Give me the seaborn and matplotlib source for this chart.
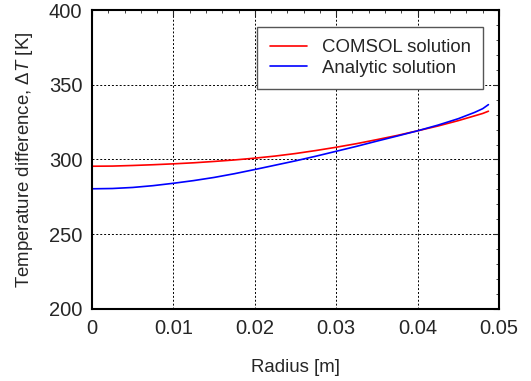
import matplotlib
matplotlib.use("Agg")
import matplotlib.pyplot as plt
import seaborn as sns
import pandas as pd
from matplotlib.ticker import MultipleLocator, FuncFormatter

# Values
radius = [0.0, 0.0025, 0.005, 0.0075, 0.01, 0.0125, 0.015, 0.0175, 0.02, 0.0225, 0.025,
          0.0275, 0.03, 0.0325, 0.035, 0.0375, 0.04, 0.0425, 0.045, 0.047, 0.048, 0.0487]
comsol = [295.5, 295.6, 296.0, 296.5, 297.1, 297.8, 298.7, 299.7, 300.9, 302.3, 304.0,
          306.0, 308.2, 310.6, 313.3, 316.1, 319.2, 322.4, 326.0, 329.2, 330.8, 332.3]
analytic = [280.4, 280.6, 281.3, 282.5, 284.1, 285.9, 288.0, 290.5, 293.3, 296.2, 299.1,
            302.2, 305.5, 308.8, 312.3, 315.7, 319.2, 323.0, 327.3, 331.5, 334.0, 336.7]

series_names = ["COMSOL solution", "Analytic solution"]
series_colors = ["#ff0000", "#0000ff"]


def build_frame():
    df = pd.concat([
        pd.DataFrame({"Radius": radius, "dT": comsol, "Series": series_names[0]}),
        pd.DataFrame({"Radius": radius, "dT": analytic, "Series": series_names[1]}),
    ])
    return df


def plot(df):
    sns.set_style("white")
    plt.rcParams["font.family"] = ["Liberation Sans", "DejaVu Sans"]
    plt.rcParams["mathtext.fontset"] = "custom"
    plt.rcParams["mathtext.rm"] = "Liberation Sans"
    plt.rcParams["mathtext.it"] = "Liberation Sans:italic"

    fig = plt.figure(figsize=(5.31, 3.81), dpi=100)
    ax = fig.add_axes([92 / 531, 1 - 309 / 381, 407 / 531, 299 / 381])

    sns.lineplot(data=df, x="Radius", y="dT", hue="Series", hue_order=series_names,
                 palette=series_colors, linewidth=1.2, ax=ax, sort=False, estimator=None)

    ax.set_xlim(0, 0.05)
    ax.set_ylim(200, 400)
    ax.xaxis.set_major_locator(MultipleLocator(0.01))
    ax.xaxis.set_minor_locator(MultipleLocator(0.002))
    ax.yaxis.set_major_locator(MultipleLocator(50))
    ax.yaxis.set_minor_locator(MultipleLocator(10))
    ax.xaxis.set_major_formatter(FuncFormatter(lambda v, p: "0" if abs(v) < 1e-12 else f"{v:g}"))

    ax.tick_params(which="both", direction="in", top=True, right=True, labelsize=14.5)
    ax.tick_params(which="major", length=4, width=0.8, pad=7)
    ax.tick_params(which="minor", length=2.5, width=0.6)

    ax.grid(True, which="major", color="black", linestyle=(0, (2, 2)), linewidth=0.7)
    for s in ax.spines.values():
        s.set_visible(True)
        s.set_color("black")
        s.set_linewidth(1.5)

    ax.set_xlabel("Radius [m]", fontsize=13.4, labelpad=15)
    ax.set_ylabel(r"Temperature difference, $\mathit{\Delta T}$ [K]", fontsize=13.4, labelpad=10)

    leg = ax.legend(loc="upper right", bbox_to_anchor=(0.96, 0.943), fontsize=13.4,
                    frameon=True, fancybox=False, shadow=False, framealpha=1,
                    edgecolor="#555555", handlelength=2.0, borderpad=0.65,
                    labelspacing=0.2, handletextpad=0.8, borderaxespad=0)
    leg.get_frame().set_linewidth(1.0)

    fig.savefig("out.png", dpi=100)


def main():
    df = build_frame()
    plot(df)


if __name__ == "__main__":
    main()
